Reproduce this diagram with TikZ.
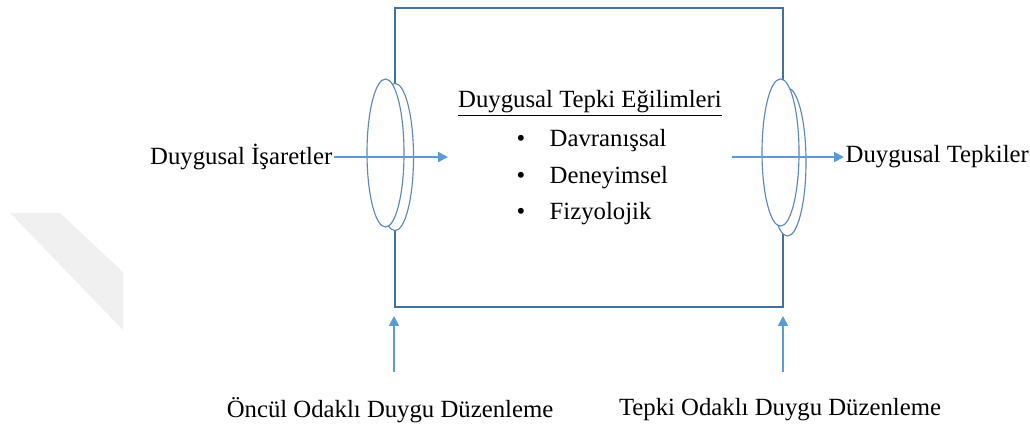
\documentclass[tikz,border=0pt]{standalone}
\usepackage{fontspec}
\setmainfont{Liberation Serif}
\usetikzlibrary{arrows.meta}
\definecolor{frameblue}{HTML}{41719C}
\definecolor{ringblue}{HTML}{5A87BE}
\definecolor{arrowblue}{HTML}{5B9BD5}

\begin{document}
\begin{tikzpicture}[x=0.025cm,y=-0.025cm,>={Triangle[length=7pt,width=7pt]},
  txt/.style={font=\fontsize{17.6}{21}\selectfont,inner sep=1pt},
  frame/.style={frameblue,line width=1.4pt},
  ring/.style={ringblue,line width=0.8pt,fill=white},
  flow/.style={->,arrowblue,line width=1.4pt}]
  \useasboundingbox (0,0) rectangle (1030,430);
  % faint mark on the left
  \fill[black!6] (10,213) -- (60,213) -- (123,272) -- (123,330) -- cycle;

  \coordinate (TL) at (395,8);
  \coordinate (BR) at (783,307);
  \draw[frame] (TL) rectangle (BR);

  % the two rings on the box sides
  \draw[ring] (395,157) ellipse [x radius=0.4625cm,y radius=1.84cm];
  \draw[ring] (385.5,153) ellipse [x radius=0.4625cm,y radius=1.85cm];
  \draw[ring] (787.5,162) ellipse [x radius=0.4625cm,y radius=1.85cm];
  \draw[ring] (780.5,152.5) ellipse [x radius=0.4625cm,y radius=1.84cm];

  % texts
  \node[txt,anchor=east] (cue) at (334,157) {Duygusal İşaretler};
  \node[txt,anchor=west] (resp) at (844,157) {Duygusal Tepkiler};
  \node[txt] (title) at (590,103) {\underline{Duygusal Tepki Eğilimleri}};
  \foreach \i/\w/\y in {1/Davranışsal/141,2/Deneyimsel/178,3/Fizyolojik/214}{
    \node[txt] (dot\i) at (521,\y) {\textbullet};
    \node[txt,anchor=west] (item\i) at (548,\y) {\w};
  }
  \node[txt] (antec) at (390,410) {Öncül Odaklı Duygu Düzenleme};
  \node[txt] (react) at (780,410) {Tepki Odaklı Duygu Düzenleme};

  % arrows
  \coordinate (inTip) at (448,157);
  \coordinate (outTail) at (732,157);
  \coordinate (antTail) at (394,372);
  \coordinate (antTip) at (394,316);
  \coordinate (reaTail) at (783,372);
  \coordinate (reaTip) at (783,316);
  \draw[flow] (cue.east) -- (inTip);
  \draw[flow] (outTail) -- (resp.west);
  \draw[flow] (antTail) -- (antTip);
  \draw[flow] (reaTail) -- (reaTip);
\end{tikzpicture}
\end{document}
